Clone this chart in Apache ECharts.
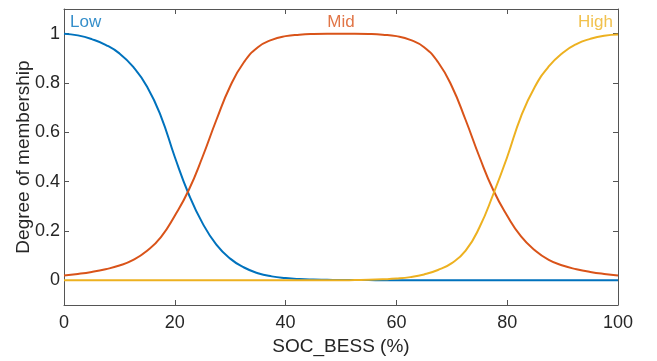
<!DOCTYPE html>
<html><head><meta charset="utf-8">
<script src="https://cdn.jsdelivr.net/npm/echarts@6/dist/echarts.min.js"></script>
<style>html,body{margin:0;padding:0;background:#fff}#c{width:657px;height:361px}</style>
</head><body><div id="c"></div>
<script>
// ---- data ----
const xValues = [0,2.5,5,7.5,10,12.5,15,17.5,20,22.5,25,27.5,30,32.5,35,37.5,40,42.5,45,47.5,50,
                 52.5,55,57.5,60,62.5,65,67.5,70,72.5,75,77.5,80,82.5,85,87.5,90,92.5,95,97.5,100];
const lowValues = [1.0,0.993,0.978,0.955,0.92,0.865,0.785,0.665,0.5,0.35,0.232,0.145,0.088,0.052,0.029,0.016,0.009,0.005,0.003,0.002,0.001,
                   0.001,0.001,0,0,0,0,0,0,0,0,0,0,0,0,0,0,0,0,0,0];
const midValues = [0.02,0.026,0.034,0.045,0.06,0.083,0.12,0.175,0.262,0.365,0.5,0.65,0.787,0.885,0.945,0.975,0.99,0.996,0.999,1,1,
                   1,0.999,0.996,0.99,0.975,0.945,0.885,0.787,0.65,0.5,0.365,0.262,0.178,0.122,0.083,0.06,0.045,0.034,0.026,0.02];
const highValues = [0,0,0,0,0,0,0,0,0,0,0,0,0,0,0,0,0,0,0,0,0,
                    0.001,0.002,0.004,0.007,0.013,0.024,0.042,0.07,0.12,0.215,0.35,0.5,0.665,0.785,0.867,0.922,0.958,0.979,0.992,0.997];
const mfNames = ['Low', 'Mid', 'High'];
const mfLabelX = [0, 50, 100];
const mfLabelY = [1.05, 1.05, 1.05];
const xAxisName = 'SOC_BESS (%)';
const yAxisName = 'Degree of membership';

// ---- styling ----
const colors = ['#0072BD', '#D95319', '#EDB120'];
const FONT = "'Liberation Sans', Arial, Helvetica, sans-serif";
const axisColor = '#555555';
const textColor = '#262626';
const labelAlign = ['left', 'center', 'right'];
const labelOffset = [[6, 1], [0, 1], [-5, 1]];

function pairs(ys) { return xValues.map((x, i) => [x, ys[i]]); }

const lineSeries = [lowValues, midValues, highValues].map((ys, i) => ({
  type: 'line', name: mfNames[i], data: pairs(ys), showSymbol: false, smooth: 0.5,
  lineStyle: { color: colors[i], width: 2 }, itemStyle: { color: colors[i] },
  xAxisIndex: 0, yAxisIndex: 0, silent: true, z: 2 + i
}));

const labelSeries = {
  type: 'scatter', symbolSize: 0, silent: true, z: 10,
  data: mfNames.map((n, i) => ({
    value: [mfLabelX[i], mfLabelY[i]],
    label: { show: true, formatter: n, position: 'inside', align: labelAlign[i], verticalAlign: 'middle',
             offset: labelOffset[i], color: colors[i], fontSize: 17, fontFamily: FONT }
  }))
};

const yFmt = v => (Math.abs(v + 0.1) < 1e-9 || Math.abs(v - 1.1) < 1e-9) ? '' : String(+v.toFixed(1));

const baseAxisLine = { show: true, onZero: false, lineStyle: { color: axisColor, width: 1 } };
const baseTick = { show: true, inside: true, length: 5, lineStyle: { color: axisColor } };

const chart = echarts.init(document.getElementById('c'), null, { renderer: 'canvas' });
chart.setOption({
  animation: false,
  backgroundColor: '#ffffff',
  grid: { left: 64, right: 39, top: 9, bottom: 53, containLabel: false },
  xAxis: [
    { type: 'value', min: 0, max: 100, interval: 20, position: 'bottom',
      axisLine: baseAxisLine, axisTick: baseTick, splitLine: { show: false },
      axisLabel: { color: textColor, fontSize: 18, fontFamily: FONT, margin: 9 },
      name: xAxisName, nameLocation: 'middle', nameGap: 32, nameMoveOverlap: false,
      nameTextStyle: { color: textColor, fontSize: 19, fontFamily: FONT } },
    { type: 'value', min: 0, max: 100, interval: 20, position: 'top',
      axisLine: baseAxisLine, axisTick: baseTick, splitLine: { show: false },
      axisLabel: { show: false } }
  ],
  yAxis: [
    { type: 'value', min: -0.1, max: 1.1, splitNumber: 6, position: 'left',
      axisLine: baseAxisLine, axisTick: baseTick, splitLine: { show: false },
      axisLabel: { color: textColor, fontSize: 18, fontFamily: FONT, margin: 4, formatter: yFmt },
      name: yAxisName, nameLocation: 'middle', nameGap: 31, nameMoveOverlap: false,
      nameTextStyle: { color: textColor, fontSize: 19, fontFamily: FONT } },
    { type: 'value', min: -0.1, max: 1.1, splitNumber: 6, position: 'right',
      axisLine: baseAxisLine, axisTick: baseTick, splitLine: { show: false },
      axisLabel: { show: false } }
  ],
  series: [...lineSeries, labelSeries]
});
</script>
</body></html>
